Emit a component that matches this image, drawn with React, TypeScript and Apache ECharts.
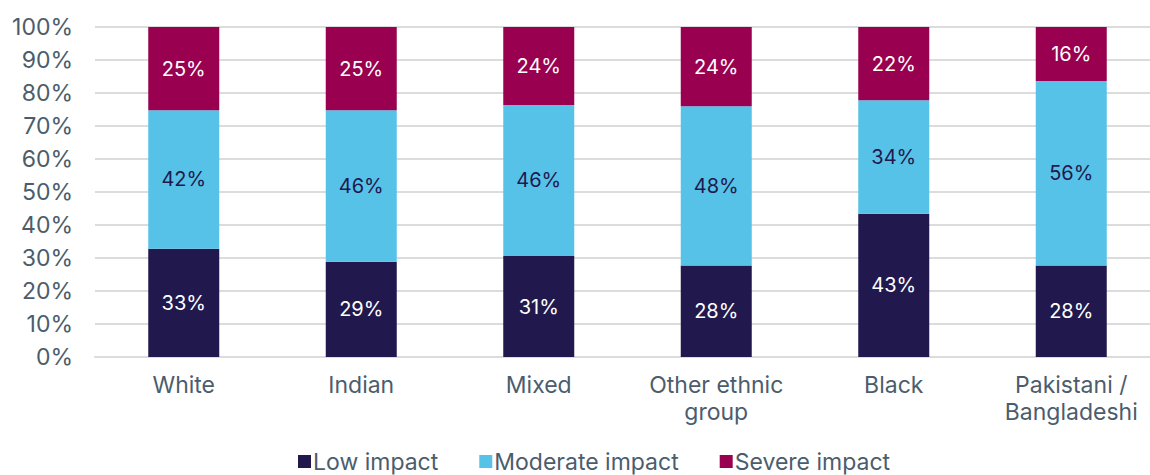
import React, { useEffect, useRef } from "react";
import * as echarts from "echarts";

const categories = ["White", "Indian", "Mixed", "Other ethnic\ngroup", "Black", "Pakistani /\nBangladeshi"];
const lowImpact = [32.8, 28.9, 30.6, 27.7, 43.4, 27.7];
const moderateImpact = [42.0, 45.9, 45.8, 48.3, 34.4, 55.9];
const severeImpact = [25.2, 25.2, 23.6, 24.0, 22.2, 16.4];
const seriesNames = ["Low impact", "Moderate impact", "Severe impact"];
const colors = ["#21194e", "#56c2e8", "#990050"];
const labelColors = ["#ffffff", "#21194e", "#ffffff"];

const FONT = "Inter, 'Noto Sans', sans-serif";
const TEXT = "#4b5d6d";

export default function App() {
  const ref = useRef<HTMLDivElement>(null);
  useEffect(() => {
    document.body.style.overflow = "hidden";
    const chart = echarts.init(ref.current!, null, { renderer: "svg" });
    const mk = (i: number, data: number[]) => ({
      name: seriesNames[i],
      type: "bar",
      stack: "total",
      data,
      barWidth: "40%",
      itemStyle: { color: colors[i] },
      label: {
        show: true,
        position: "inside",
        color: labelColors[i],
        fontFamily: FONT,
        fontSize: 20,
        formatter: (p: any) => Math.round(p.value) + "%",
      },
    });
    chart.setOption({
      animation: false,
      textStyle: { fontFamily: FONT },
      grid: { left: 95, right: 0, top: 27, bottom: 118, containLabel: false },
      legend: {
        top: 445,
        left: 293,
        itemWidth: 13,
        itemHeight: 13,
        itemGap: 41,
        icon: "rect",
        textStyle: { color: TEXT, fontSize: 23, fontFamily: FONT, padding: [0, 0, 0, -3] },
        data: seriesNames,
      },
      xAxis: {
        type: "category",
        data: categories,
        axisLine: { lineStyle: { color: "#dcdcdc", width: 2 } },
        axisTick: { show: false },
        axisLabel: { color: TEXT, fontSize: 23, fontFamily: FONT, margin: 14, lineHeight: 27 },
      },
      yAxis: {
        type: "value",
        min: 0,
        max: 100,
        interval: 10,
        axisLine: { show: false },
        axisTick: { show: false },
        splitLine: { lineStyle: { color: "#dcdcdc", width: 2 } },
        axisLabel: { color: TEXT, fontSize: 23, fontFamily: FONT, margin: 22, formatter: "{value}%" },
      },
      series: [mk(0, lowImpact), mk(1, moderateImpact), mk(2, severeImpact)],
    });
    return () => chart.dispose();
  }, []);
  return (
    <div
      ref={ref}
      style={{ position: "absolute", left: 0, top: 0, width: 1160, height: 475 }}
    />
  );
}
